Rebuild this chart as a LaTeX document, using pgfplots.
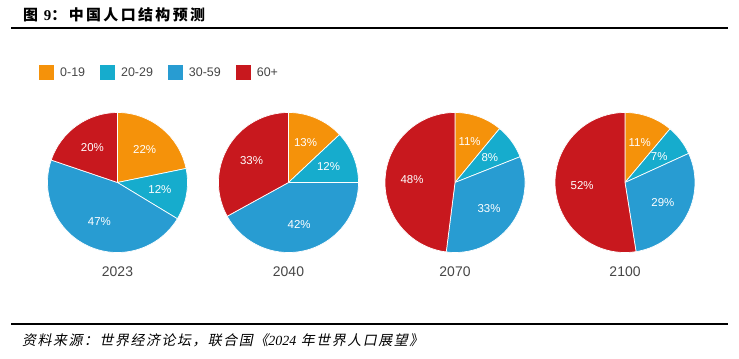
\documentclass[border=0pt]{standalone}
\usepackage{pgfplots}
\usepackage{pgfplotstable}
\pgfplotsset{compat=1.18}
\usepackage{fontspec}
\setmainfont{Liberation Sans}
\newfontfamily\cjk{Noto Sans CJK SC}[LetterSpace=16]
\newfontfamily\cjkit{Noto Sans CJK SC}[FakeSlant=0.2, LetterSpace=11]
\newfontfamily\serifit{Liberation Serif}[ItalicFont={Liberation Serif Italic}]
\newfontfamily\serifbf{Liberation Serif}
\definecolor{cA}{RGB}{245,146,10}
\definecolor{cB}{RGB}{22,172,205}
\definecolor{cC}{RGB}{40,156,210}
\definecolor{cD}{RGB}{200,24,30}
\definecolor{txt}{RGB}{70,70,70}

\pgfplotstableread{
year c1 c2 c3 c4
2023 22 12 47 20
2040 13 12 42 33
2070 11 8 33 48
2100 11 7 29 52
}\piedata

\newcommand\piewedge[6]{% cx cy value color cum total
  \pgfmathsetmacro\sa{90-(#5/#6)*360}%
  \pgfmathsetmacro\ea{90-((#5+#3)/#6)*360}%
  \pgfmathsetmacro\ma{(\sa+\ea)/2}%
  \edef\temp{\noexpand\fill[#4, draw=white, line width=0.7pt, line join=round]
     (axis cs:#1,#2) -- ++(\sa:70bp) arc[start angle=\sa, end angle=\ea, radius=70bp] -- cycle;}%
  \temp
  \edef\temp{\noexpand\path (axis cs:#1,#2) ++(\ma:43bp)
     node[text=white, font=\noexpand\fontsize{11.5}{12}\noexpand\selectfont] {#3\noexpand\%};}%
  \temp
}
\newcommand\drawpie[3]{% row cx cy
  \pgfplotstablegetelem{#1}{c1}\of\piedata \edef\va{\pgfplotsretval}%
  \pgfplotstablegetelem{#1}{c2}\of\piedata \edef\vb{\pgfplotsretval}%
  \pgfplotstablegetelem{#1}{c3}\of\piedata \edef\vc{\pgfplotsretval}%
  \pgfplotstablegetelem{#1}{c4}\of\piedata \edef\vd{\pgfplotsretval}%
  \pgfplotstablegetelem{#1}{year}\of\piedata \edef\vy{\pgfplotsretval}%
  \pgfmathtruncatemacro\tot{\va+\vb+\vc+\vd}%
  \pgfmathtruncatemacro\cb{\va}%
  \pgfmathtruncatemacro\cc{\va+\vb}%
  \pgfmathtruncatemacro\cd{\va+\vb+\vc}%
  \piewedge{#2}{#3}{\va}{cA}{0}{\tot}%
  \piewedge{#2}{#3}{\vb}{cB}{\cb}{\tot}%
  \piewedge{#2}{#3}{\vc}{cC}{\cc}{\tot}%
  \piewedge{#2}{#3}{\vd}{cD}{\cd}{\tot}%
  \edef\temp{\noexpand\node[text=txt, font=\noexpand\fontsize{14}{16}\noexpand\selectfont] at (axis cs:#2,86.5) {\vy};}%
  \temp
}

\begin{document}
\begin{tikzpicture}
\begin{axis}[
  x=1bp, y=1bp, xmin=0, xmax=739, ymin=0, ymax=358,
  hide axis, clip=false, scale only axis,
  legend columns=-1,
  legend image code/.code={\fill[#1] (0bp,-7.5bp) rectangle (15bp,7.5bp);},
  legend style={draw=none, fill=none, at={(axis cs:39,285.5)}, anchor=west,
    font=\fontsize{12.5}{14}\selectfont, text=txt, inner sep=0pt,
    nodes={inner xsep=6bp, inner ysep=0pt},
    /tikz/every even column/.append style={column sep=9bp}},
]
\fill[white] (axis cs:0,0) rectangle (axis cs:739,358);
\addlegendimage{fill=cA, draw=none}
\addlegendentry{0-19}
\addlegendimage{fill=cB, draw=none}
\addlegendentry{20-29}
\addlegendimage{fill=cC, draw=none}
\addlegendentry{30-59}
\addlegendimage{fill=cD, draw=none}
\addlegendentry{60+}

\drawpie{0}{117.5}{175.5}
\drawpie{1}{288.5}{175.5}
\drawpie{2}{455}{175.5}
\drawpie{3}{625}{175.5}

\draw[black, line width=2bp] (axis cs:11,330) -- (axis cs:728,330);
\draw[black, line width=2bp] (axis cs:11,34.3) -- (axis cs:728,34.3);
\node[anchor=west, inner sep=0pt] at (axis cs:23,343)
  {\fontsize{15}{17}\selectfont\cjk\bfseries 图 {\serifbf\bfseries 9}：中国人口结构预测};
\node[anchor=west, inner sep=0pt] at (axis cs:22,18)
  {\fontsize{14}{16}\selectfont\cjkit 资料来源：世界经济论坛，联合国《{\serifit\itshape 2024} 年世界人口展望》};
\end{axis}
\end{tikzpicture}
\end{document}
